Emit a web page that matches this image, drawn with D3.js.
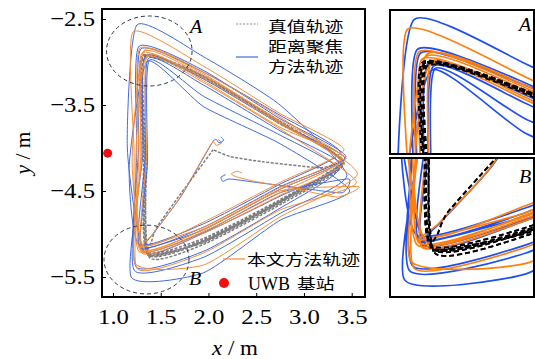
<!DOCTYPE html>
<html><head><meta charset="utf-8">
<script src="https://cdn.jsdelivr.net/npm/d3@7"></script>
<style>body{margin:0;background:#fff}svg{display:block}</style>
</head><body>
<svg id="c" width="535" height="359"></svg>
<script>
// ---------------- data ----------------
const xTicks = [1.0, 1.5, 2.0, 2.5, 3.0, 3.5];
const yTicks = [-2.5, -3.5, -4.5, -5.5];
const legendTruth = "真值轨迹";
const legendRange = ["距离聚焦", "方法轨迹"];
const legendOurs = "本文方法轨迹";
const legendUwbLatin = "UWB";
const legendUwbCjk = "基站";
const uwbStation = [[0.944, -4.06]];
const zoneA = [1.38, -2.872, 0.448, 0.407];
const zoneB = [1.351, -5.297, 0.445, 0.40];

const truthStart = [[2.05,-4.02],[1.75,-4.47],[1.46,-4.92],[1.40,-5.10]];
const truthLaps = [
  [[1.37,-5.25],[1.95,-5.10],[2.75,-4.64],[3.41,-4.17],[2.75,-3.70],[1.95,-3.17],[1.31,-2.94],[1.33,-4.10]],
  [[1.36,-5.22],[1.95,-5.07],[2.75,-4.61],[3.40,-4.16],[2.75,-3.71],[1.95,-3.18],[1.32,-2.95],[1.34,-4.10]],
  [[1.38,-5.27],[1.95,-5.12],[2.75,-4.66],[3.42,-4.18],[2.75,-3.69],[1.95,-3.16],[1.30,-2.93],[1.32,-4.10]],
  [[1.35,-5.20],[1.95,-5.05],[2.75,-4.60],[3.41,-4.15],[2.75,-3.72],[1.95,-3.19],[1.33,-2.96],[1.35,-4.10]],
  [[1.37,-5.24],[1.95,-5.09],[2.75,-4.63],[3.40,-4.17],[2.75,-3.70],[1.95,-3.17],[1.31,-2.94],[1.33,-4.10]]
];
const truthEnd = [[1.36,-5.23],[1.95,-5.08],[2.75,-4.62],[3.40,-4.18],[3.17,-4.23],[2.57,-4.16],[2.23,-4.10],[2.05,-4.02]];

const blueStart = [[2.13,-3.87],[2.16,-3.91],[2.11,-3.94],[2.05,-3.92],[1.72,-4.55],[1.42,-5.00]];
const blueLaps = [
  [[1.31,-5.18],[1.95,-4.95],[2.75,-4.48],[3.43,-4.12],[2.75,-3.72],[1.95,-3.20],[1.34,-2.93],[1.31,-4.10]],
  [[1.19,-5.50],[1.95,-5.45],[2.75,-4.84],[3.48,-4.50],[2.75,-3.95],[1.95,-3.52],[1.36,-2.99],[1.17,-4.20]],
  [[1.27,-5.12],[1.95,-4.88],[2.75,-4.42],[3.38,-4.05],[2.75,-3.62],[1.95,-3.12],[1.29,-2.85],[1.27,-4.00]],
  [[1.22,-5.42],[1.95,-5.27],[2.75,-4.76],[3.45,-4.32],[2.75,-3.50],[1.95,-2.94],[1.25,-2.57],[1.15,-4.00]],
  [[1.33,-5.21],[1.95,-4.99],[2.75,-4.56],[3.40,-4.20],[2.75,-3.80],[1.95,-3.27],[1.37,-2.96],[1.34,-4.10]],
  [[1.28,-5.15],[1.95,-4.92],[2.75,-4.45],[3.44,-4.10],[2.75,-3.66],[1.95,-3.10],[1.27,-2.82],[1.25,-4.05]],
  [[1.24,-5.38],[1.95,-5.20],[2.75,-4.70],[3.36,-4.25],[2.75,-3.85],[1.95,-3.40],[1.38,-2.98],[1.36,-4.20]]
];
const blueEnd = [[1.30,-5.20],[1.95,-4.98],[2.75,-4.52],[3.46,-4.36],[3.40,-4.52],[3.00,-4.47],[2.50,-4.40],[2.22,-4.36],[2.15,-4.39],[2.13,-4.34],[2.18,-4.31]];

const orangeStart = [[2.10,-3.90],[2.14,-3.94],[2.08,-3.97],[2.03,-3.95],[1.70,-4.58],[1.40,-5.02]];
const orangeLaps = [
  [[1.29,-5.16],[1.95,-4.92],[2.75,-4.46],[3.40,-4.10],[2.75,-3.68],[1.95,-3.16],[1.32,-2.88],[1.29,-4.10]],
  [[1.25,-5.40],[1.95,-5.22],[2.75,-4.72],[3.55,-4.40],[2.75,-3.78],[1.95,-3.24],[1.35,-2.94],[1.24,-4.10]],
  [[1.31,-5.13],[1.95,-4.86],[2.75,-4.40],[3.42,-4.02],[2.75,-3.60],[1.95,-3.05],[1.21,-2.65],[1.22,-4.00]],
  [[1.27,-5.20],[1.95,-4.97],[2.75,-4.52],[3.38,-4.15],[2.75,-3.72],[1.95,-3.19],[1.30,-2.90],[1.30,-4.10]],
  [[1.23,-5.34],[1.95,-5.36],[2.75,-4.80],[3.56,-4.30],[2.75,-3.64],[1.95,-3.12],[1.33,-2.86],[1.20,-4.15]],
  [[1.33,-5.18],[1.95,-4.94],[2.75,-4.48],[3.44,-4.12],[2.75,-3.76],[1.95,-3.22],[1.36,-2.92],[1.35,-4.10]],
  [[1.30,-5.22],[1.95,-4.99],[2.75,-4.55],[3.41,-4.18],[2.75,-3.70],[1.95,-3.14],[1.28,-2.84],[1.27,-4.05]]
];
const orangeEnd = [[1.28,-5.18],[1.95,-4.95],[2.75,-4.50],[3.57,-4.45],[3.35,-4.57],[2.90,-4.47],[2.45,-4.38],[2.28,-4.33],[2.24,-4.30],[2.30,-4.27],[2.35,-4.29]];

// ---------------- drawing ----------------
const svg = d3.select("#c");
const SERIF = "'Liberation Serif','Times New Roman',serif";
const CJK = "'Noto Sans CJK SC','Noto Sans CJK JP',sans-serif";
const TX = 1.15;   // horizontal stretch of the lettering
const CX = 1.3;
const FS = 21.5;

const truthPath = truthStart.concat(...truthLaps, truthEnd);
const bluePath = blueStart.concat(...blueLaps, blueEnd);
const orangePath = orangeStart.concat(...orangeLaps, orangeEnd);

function txt(parent, x, y, s, size, family, opt = {}) {
  const g = parent.append("g").attr("transform", `translate(${x},${y}) scale(${opt.sx || 1},1)` + (opt.rot ? ` rotate(${opt.rot})` : ""));
  const t = g.append("text").attr("text-anchor", opt.anchor || "start")
    .style("font-family", family).style("font-size", size + "px")
    .style("font-style", opt.italic ? "italic" : "normal").attr("fill", "#000");
  if (Array.isArray(s)) s.forEach(p => t.append("tspan").style("font-style", p[1] ? "italic" : "normal").text(p[0]));
  else t.text(s);
  return t;
}

function panel(id, xs, ys, rect, opts) {
  svg.append("clipPath").attr("id", id).append("rect")
    .attr("x", rect[0]).attr("y", rect[1]).attr("width", rect[2] - rect[0]).attr("height", rect[3] - rect[1]);
  const g = svg.append("g").attr("clip-path", `url(#${id})`);
  const line = d3.line().x(d => xs(d[0])).y(d => ys(d[1])).curve(d3.curveCardinal.tension(0.45));
  g.append("path").attr("d", line(truthPath)).attr("fill", "none")
    .attr("stroke", opts.truth).attr("stroke-width", opts.tw).attr("stroke-dasharray", opts.dash);
  g.append("path").attr("d", line(bluePath)).attr("fill", "none")
    .attr("stroke", opts.blue).attr("stroke-width", opts.lw).attr("stroke-linejoin", "round");
  g.append("path").attr("d", line(orangePath)).attr("fill", "none")
    .attr("stroke", opts.orange).attr("stroke-width", opts.lw).attr("stroke-linejoin", "round");
  if (opts.truthTop) {
    g.append("path").attr("d", line(truthPath)).attr("fill", "none")
      .attr("stroke", opts.truth).attr("stroke-width", opts.tw).attr("stroke-dasharray", opts.dash);
  }
  return g;
}

// main plot
const x = d3.scaleLinear().domain([1.0, 3.5]).range([113, 351.7]);
const y = d3.scaleLinear().domain([-2.5, -5.5]).range([19, 277]);
const main = panel("clipMain", x, y, [102, 9, 365, 297],
  {truth: "#7d7d7d", tw: 1.5, dash: "3,1.5", blue: "#4169e1", orange: "#f68d36", lw: 1});

// zone ellipses
[zoneA, zoneB].forEach(z => {
  main.append("ellipse").attr("cx", x(z[0])).attr("cy", y(z[1]))
    .attr("rx", x(z[0] + z[2]) - x(z[0])).attr("ry", y(z[1] - z[3]) - y(z[1]))
    .attr("fill", "none").attr("stroke", "#27344f").attr("stroke-width", 1).attr("stroke-dasharray", "4,3");
});
// UWB station
main.selectAll("circle.uwb").data(uwbStation).join("circle").attr("class", "uwb")
  .attr("cx", d => x(d[0])).attr("cy", d => y(d[1])).attr("r", 4.5).attr("fill", "#f01010");

// axes
const fmt = d3.format(".1f");
const ax = svg.append("g").attr("transform", "translate(0,297)")
  .call(d3.axisBottom(x).tickValues(xTicks).tickSizeInner(-4).tickSizeOuter(0).tickPadding(12).tickFormat(fmt));
const ay = svg.append("g").attr("transform", "translate(102,0)")
  .call(d3.axisLeft(y).tickValues(yTicks).tickSizeInner(-4).tickSizeOuter(0).tickPadding(7).tickFormat(d => fmt(d).replace("-", "\u2212")));
[ax, ay].forEach(a => {
  a.select(".domain").remove();
  a.selectAll(".tick line").attr("stroke", "#000").attr("stroke-width", 1);
  a.selectAll(".tick text").style("font-family", SERIF).style("font-size", FS + "px").attr("fill", "#000");
});
ay.selectAll(".tick text").attr("transform", `scale(${TX},1)`).attr("x", -7 / TX);
ax.selectAll(".tick text").attr("transform", `scale(${TX},1)`);

// frame
svg.append("rect").attr("x", 102).attr("y", 9).attr("width", 263).attr("height", 288)
  .attr("fill", "none").attr("stroke", "#000").attr("stroke-width", 2);

// axis titles
txt(svg, 235, 355, [["x", true], [" / m", false]], FS, SERIF, {anchor: "middle", sx: 1.07});
txt(svg, 30, 153, [["y", true], [" / m", false]], FS, SERIF, {anchor: "middle", sx: 1, rot: -90});

// zone letters
txt(svg, 196, 33, "A", 19, SERIF, {anchor: "middle", italic: true, sx: 1.05});
txt(svg, 195, 285, "B", 19, SERIF, {anchor: "middle", italic: true, sx: 1.05});

// legend
svg.append("line").attr("x1", 236).attr("x2", 258).attr("y1", 24).attr("y2", 24)
  .attr("stroke", "#8a8a8a").attr("stroke-width", 1).attr("stroke-dasharray", "2,1.5");
txt(svg, 268, 31.5, legendTruth, 14.5, CJK, {sx: CX});
svg.append("line").attr("x1", 236).attr("x2", 258).attr("y1", 57).attr("y2", 57)
  .attr("stroke", "#4169e1").attr("stroke-width", 1.2);
txt(svg, 268, 52, legendRange[0], 14.5, CJK, {sx: CX});
txt(svg, 268, 71.5, legendRange[1], 14.5, CJK, {sx: CX});
svg.append("line").attr("x1", 223).attr("x2", 245).attr("y1", 259).attr("y2", 259)
  .attr("stroke", "#f68d36").attr("stroke-width", 1.2);
txt(svg, 247, 265, legendOurs, 14.5, CJK, {sx: CX});
svg.append("circle").attr("cx", 224).attr("cy", 283).attr("r", 5).attr("fill", "#f01010");
txt(svg, 248, 289.5, legendUwbLatin, 18, SERIF, {sx: 1.0});
txt(svg, 297, 289, legendUwbCjk, 14.5, CJK, {sx: CX});

// insets
const xi = d3.scaleLinear().domain([1.1, 2.0]).range([390, 534]);
const yA = d3.scaleLinear().domain([-2.49, -3.69]).range([10, 154]);
const yB = d3.scaleLinear().domain([-4.45, -5.65]).range([158, 297]);
const insetOpts = {truth: "#000", tw: 1.8, dash: "5,3", blue: "#1f4ff0", orange: "#ff7f0e", lw: 1.7, truthTop: true};
panel("clipA", xi, yA, [390, 10, 534, 154], insetOpts);
panel("clipB", xi, yB, [390, 158, 534, 297], insetOpts);
svg.append("rect").attr("x", 390).attr("y", 10).attr("width", 144).attr("height", 144)
  .attr("fill", "none").attr("stroke", "#000").attr("stroke-width", 2);
svg.append("rect").attr("x", 390).attr("y", 158).attr("width", 144).attr("height", 139)
  .attr("fill", "none").attr("stroke", "#000").attr("stroke-width", 2);
txt(svg, 525, 31, "A", 19, SERIF, {anchor: "middle", italic: true, sx: 1.05});
txt(svg, 525, 183, "B", 19, SERIF, {anchor: "middle", italic: true, sx: 1.05});
</script>
</body></html>
